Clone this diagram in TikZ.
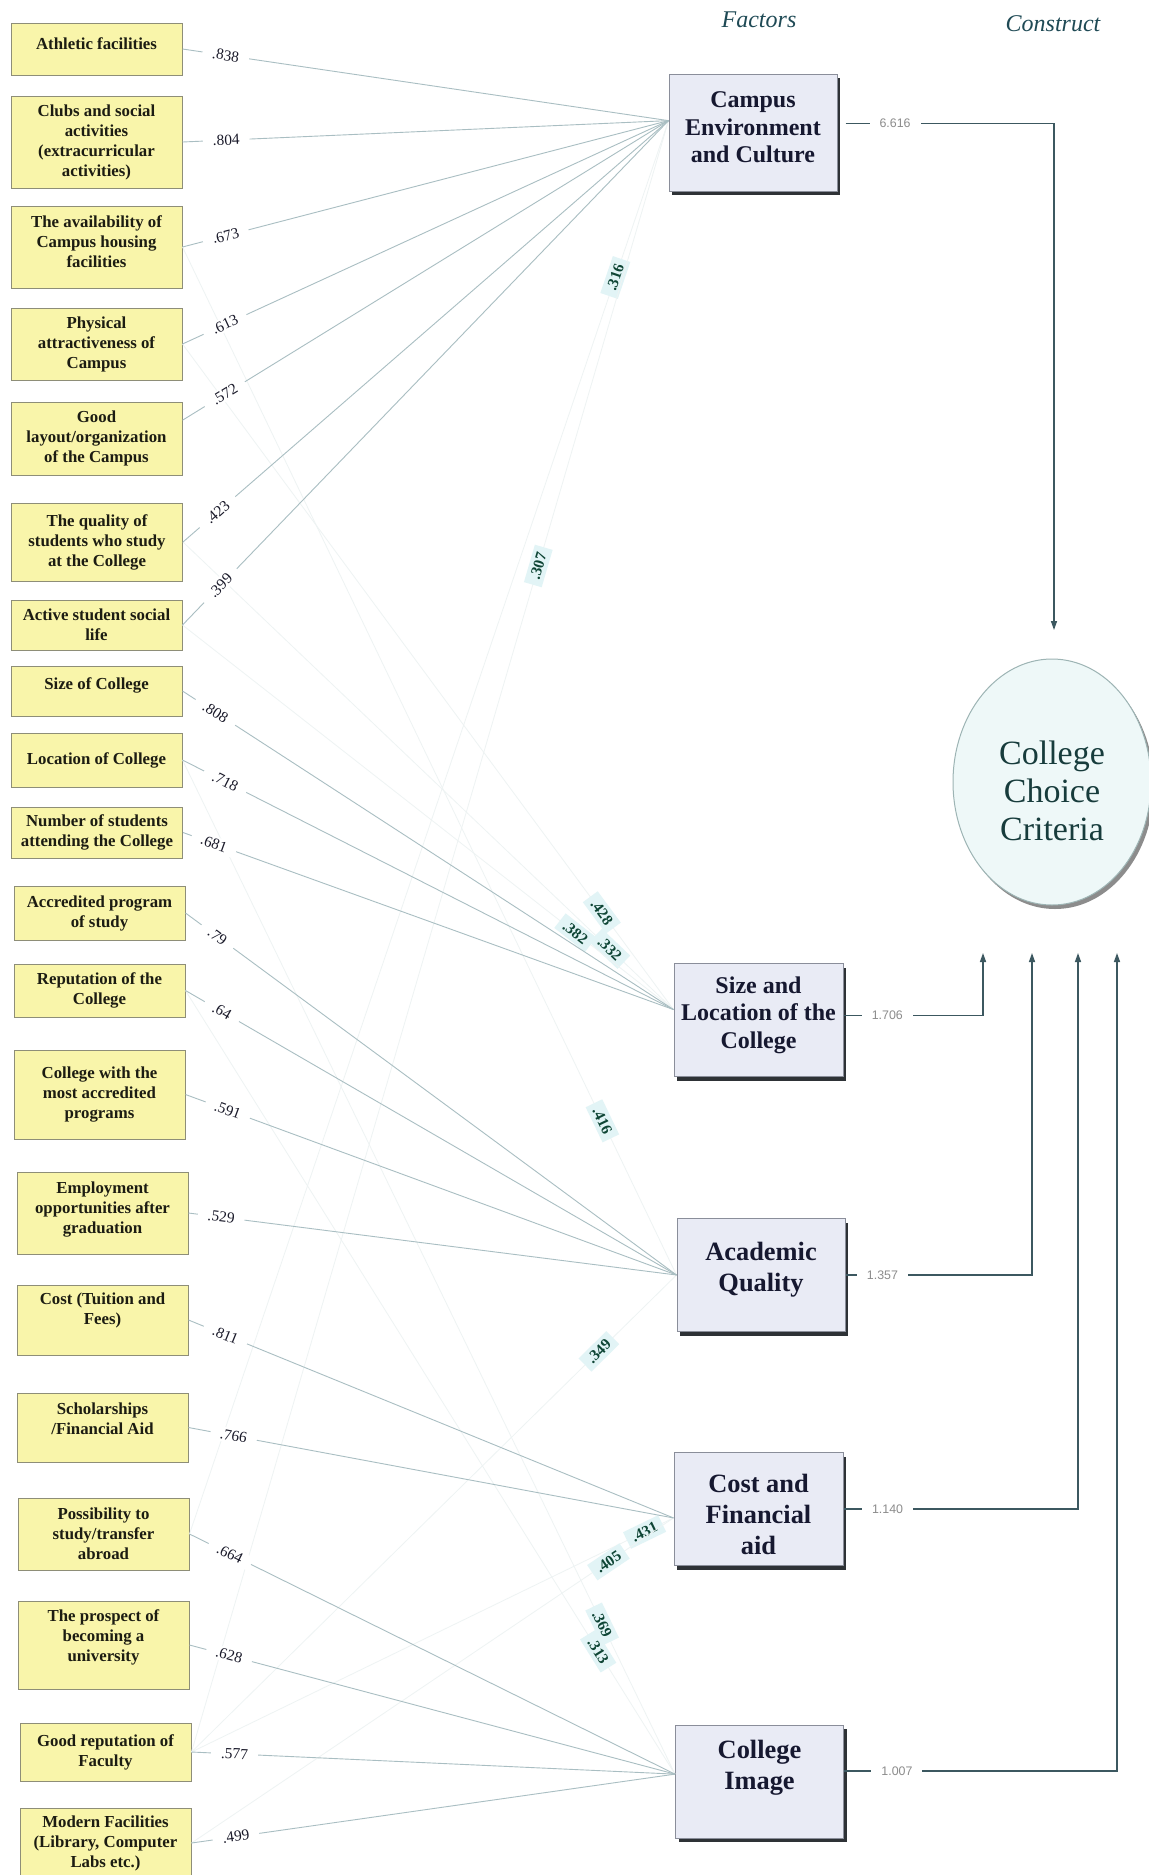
\documentclass[tikz,border=0pt]{standalone}
\usepackage{fontspec}
\setmainfont{Liberation Serif}
\newfontfamily\coefsans{Liberation Sans}
\usetikzlibrary{arrows.meta,shadows,shapes.geometric}

\definecolor{itemfill}{HTML}{F9F5AA}
\definecolor{itemdraw}{HTML}{8E8E78}
\definecolor{itemtext}{HTML}{1C1C12}
\definecolor{factfill}{HTML}{E9EBF5}
\definecolor{factdraw}{HTML}{8A8E9A}
\definecolor{facttext}{HTML}{161830}
\definecolor{shadowc}{HTML}{2E3236}
\definecolor{loadline}{HTML}{A9BEC2}
\definecolor{crossline}{HTML}{EEF3F3}
\definecolor{crossfill}{HTML}{E2F4F6}
\definecolor{crosstext}{HTML}{0E4535}
\definecolor{lbltext}{HTML}{1A1A2A}
\definecolor{connc}{HTML}{3C5860}
\definecolor{coefgray}{HTML}{8C8C8C}
\definecolor{hdrtext}{HTML}{1F4A55}
\definecolor{ellfill}{HTML}{EEF8F8}
\definecolor{elldraw}{HTML}{9DB4B4}
\definecolor{elltext}{HTML}{173C3C}

% invisible struts that move a node's text up (\dep) or down (\hgt)
\newcommand{\dep}[1]{\rule[-#1pt]{0pt}{#1pt}}
\newcommand{\hgt}[1]{\rule{0pt}{#1pt}}

\begin{document}
\begin{tikzpicture}[x=0.5pt, y=-0.5pt,
  item/.style={draw=itemdraw, fill=itemfill, line width=0.5pt, minimum width=85.5pt,
    inner sep=1pt, align=center, text=itemtext, font=\bfseries\fontsize{8.4}{10}\selectfont},
  factor/.style={draw=factdraw, fill=factfill, line width=0.5pt, minimum width=84pt,
    minimum height=56.5pt, inner sep=1pt, align=center, text=facttext,
    drop shadow={shadow xshift=1.5pt, shadow yshift=-2pt, fill=shadowc, opacity=1}},
  fsmall/.style={font=\bfseries\fontsize{12}{13.75}\selectfont},
  fbig/.style={font=\bfseries\fontsize{13.2}{15.5}\selectfont},
  load/.style={draw=loadline, line width=0.45pt},
  xload/.style={draw=crossline, line width=0.4pt},
  ldl/.style={sloped, fill=white, inner xsep=5pt, inner ysep=1pt, text=lbltext,
    font=\fontsize{7.7}{8}\selectfont},
  xlbl/.style={sloped, fill=crossfill, inner xsep=3pt, inner ysep=2pt, text=crosstext,
    font=\bfseries\fontsize{7.7}{8}\selectfont},
  conn/.style={draw=connc, line width=0.7pt, -{Triangle[length=4.5pt,width=3pt]}},
  pathlbl/.style={fill=white, inner xsep=5pt, inner ysep=1pt, text=coefgray,
    font=\coefsans\fontsize{6.2}{7}\selectfont},
  hdr/.style={text=hdrtext, font=\itshape\fontsize{12}{14}\selectfont}
]
\useasboundingbox (0,0) rectangle (1149,1875);
\fill[white] (0,0) rectangle (1149,1875);

% observed items
\node[item, minimum height=26pt]   (i1)  at (96.5,49)    {Athletic facilities\dep{5}};
\node[item, minimum height=46pt]   (i2)  at (96.5,142)   {Clubs and social\\activities\\(extracurricular\\activities)};
\node[item, minimum height=41pt]   (i3)  at (96.5,247)   {The availability of\\Campus housing\\facilities\dep{5}};
\node[item, minimum height=36pt]   (i4)  at (96.5,344)   {Physical\\attractiveness of\\Campus};
\node[item, minimum height=36.5pt] (i5)  at (96.5,438.5) {Good\\layout/organization\\of the Campus};
\node[item, minimum height=39pt]   (i6)  at (97,542)     {The quality of\\students who study\\at the College};
\node[item, minimum height=25pt]   (i7)  at (96.5,625)   {Active student social\\life};
\node[item, minimum height=25pt]   (i8)  at (96.5,691)   {Size of College\dep{7.8}};
\node[item, minimum height=27pt]   (i9)  at (96.5,760)   {Location of College};
\node[item, minimum height=25.5pt] (i10) at (97,832.5)   {Number of students\\attending the College};
\node[item, minimum height=27pt]   (i11) at (99.5,913)   {Accredited program\\of study};
\node[item, minimum height=26.5pt] (i12) at (99.5,990.5) {Reputation of the\\College};
\node[item, minimum height=44.5pt] (i13) at (99.5,1094.5){College with the\\most accredited\\programs};
\node[item, minimum height=41pt]   (i14) at (102.5,1213) {Employment\\opportunities after\\graduation\dep{5.4}};
\node[item, minimum height=35pt]   (i15) at (102.5,1320) {Cost (Tuition and\\Fees)\dep{11}};
\node[item, minimum height=34.5pt] (i16) at (102.5,1427.5){Scholarships\\/Financial Aid\dep{9}};
\node[item, minimum height=36pt]   (i17) at (103.5,1534) {Possibility to\\study/transfer\\abroad};
\node[item, minimum height=44pt]   (i18) at (103.5,1645) {The prospect of\\becoming a\\university\dep{9}};
\node[item, minimum height=29pt]   (i19) at (105.5,1752) {Good reputation of\\Faculty};
\node[item, minimum height=35pt]   (i20) at (105.5,1843) {Modern Facilities\\(Library, Computer\\Labs etc.)};

% factors
\node[factor, fsmall, minimum height=58.5pt] (f1) at (753,132.5) {Campus\\Environment\\and Culture\dep{5}};
\node[factor, fsmall, minimum width=84.5pt]  (f2) at (758.5,1020) {Size and\\Location of the\\College\dep{7.6}};
\node[factor, fbig]   (f3) at (761,1275)    {Academic\\Quality\dep{8.5}};
\node[factor, fbig, minimum width=84.5pt]    (f4) at (758.5,1509) {\hgt{15}Cost and\\Financial\\aid};
\node[factor, fbig]   (f5) at (759.5,1781.5) {College\\Image\dep{16.5}};

% construct
\node[ellipse, draw=elldraw, fill=ellfill, line width=0.5pt, minimum width=99pt, minimum height=123pt,
  inner sep=0pt, align=center, text=elltext, font=\fontsize{17}{19}\selectfont,
  drop shadow={shadow xshift=1.5pt, shadow yshift=-2pt, fill=black!45, opacity=1}]
  (cc) at (1052,782) {\hgt{21}College\\Choice\\Criteria};

% column headings
\node[hdr] (hf) at (759,20) {Factors};
\node[hdr] (hc) at (1053,24) {Construct};

% cross-loadings (faint)
\draw[xload] (i17.east) -- (f1.172) node[xlbl, pos=0.889] (x1) {.316};
\draw[xload] (i19.east) -- (f1.172) node[xlbl, pos=0.727] (x2) {.307};
\draw[xload] (i4.east)  -- (f2.173) node[xlbl, pos=0.854] (x3) {.428};
\draw[xload] (i6.east)  -- (f2.173) node[xlbl, pos=0.87]  (x4) {.332};
\draw[xload] (i7.east)  -- (f2.173) node[xlbl, pos=0.80]  (x5) {.382};
\draw[xload] (i3.east)  -- (f3.west) node[xlbl, pos=0.85] (x6) {.416};
\draw[xload] (i19.east) -- (f3.west) node[xlbl, pos=0.84] (x7) {.349};
\draw[xload] (i19.east) -- (f4.186) node[xlbl, pos=0.94]  (x8) {.431};
\draw[xload] (i20.east) -- (f4.186) node[xlbl, pos=0.865] (x9) {.405};
\draw[xload] (i9.east)  -- (f5.175) node[xlbl, pos=0.852] (x10) {.369};
\draw[xload] (i12.east) -- (f5.175) node[xlbl, pos=0.843] (x11) {.313};

% factor loadings
\draw[load] (i1.east)  -- (f1.172) node[ldl, pos=0.089] (l1) {.838};
\draw[load] (i2.east)  -- (f1.172) node[ldl, pos=0.09]  (l2) {.804};
\draw[load] (i3.east)  -- (f1.172) node[ldl, pos=0.089] (l3) {.673};
\draw[load] (i4.east)  -- (f1.172) node[ldl, pos=0.0875](l4) {.613};
\draw[load] (i5.12)    -- (f1.172) node[ldl, pos=0.087] (l5) {.572};
\draw[load] (i6.east)  -- (f1.172) node[ldl, pos=0.071] (l6) {.423};
\draw[load] (i7.east)  -- (f1.172) node[ldl, pos=0.078] (l7) {.399};
\draw[load] (i8.east)  -- (f2.173) node[ldl, pos=0.067] (l8) {.808};
\draw[load] (i9.east)  -- (f2.173) node[ldl, pos=0.087] (l9) {.718};
\draw[load] (i10.east) -- (f2.173) node[ldl, pos=0.063] (l10) {.681};
\draw[load] (i11.east) -- (f3.west) node[ldl, pos=0.065] (l11) {.79};
\draw[load] (i12.east) -- (f3.west) node[ldl, pos=0.074] (l12) {.64};
\draw[load] (i13.east) -- (f3.west) node[ldl, pos=0.086] (l13) {.591};
\draw[load] (i14.east) -- (f3.west) node[ldl, pos=0.067] (l14) {.529};
\draw[load] (i15.east) -- (f4.186) node[ldl, pos=0.076] (l15) {.811};
\draw[load] (i16.east) -- (f4.186) node[ldl, pos=0.093] (l16) {.766};
\draw[load] (i17.east) -- (f5.175) node[ldl, pos=0.083] (l17) {.664};
\draw[load] (i18.east) -- (f5.175) node[ldl, pos=0.0815](l18) {.628};
\draw[load] (i19.east) -- (f5.175) node[ldl, pos=0.089] (l19) {.577};
\draw[load] (i20.east) -- (f5.175) node[ldl, pos=0.092] (l20) {.499};

% paths from factors to the construct
\coordinate (t1) at (1054,630);
\coordinate (t2) at (983,953);
\coordinate (t3) at (1032,953);
\coordinate (t4) at (1078,953);
\coordinate (t5) at (1117,953);
\draw[conn, shorten <=4pt] (f1.6) -| node[pathlbl, pos=0.133] (p1) {6.616} (t1);
\draw[conn] (f2.3)    -| node[pathlbl, pos=0.157] (p2) {1.706} (t2);
\draw[conn] (f3.east) -| node[pathlbl, pos=0.099] (p3) {1.357} (t3);
\draw[conn] (f4.east) -| node[pathlbl, pos=0.094] (p4) {1.140} (t4);
\draw[conn] (f5.7)    -| node[pathlbl, pos=0.097] (p5) {1.007} (t5);
\end{tikzpicture}
\end{document}
